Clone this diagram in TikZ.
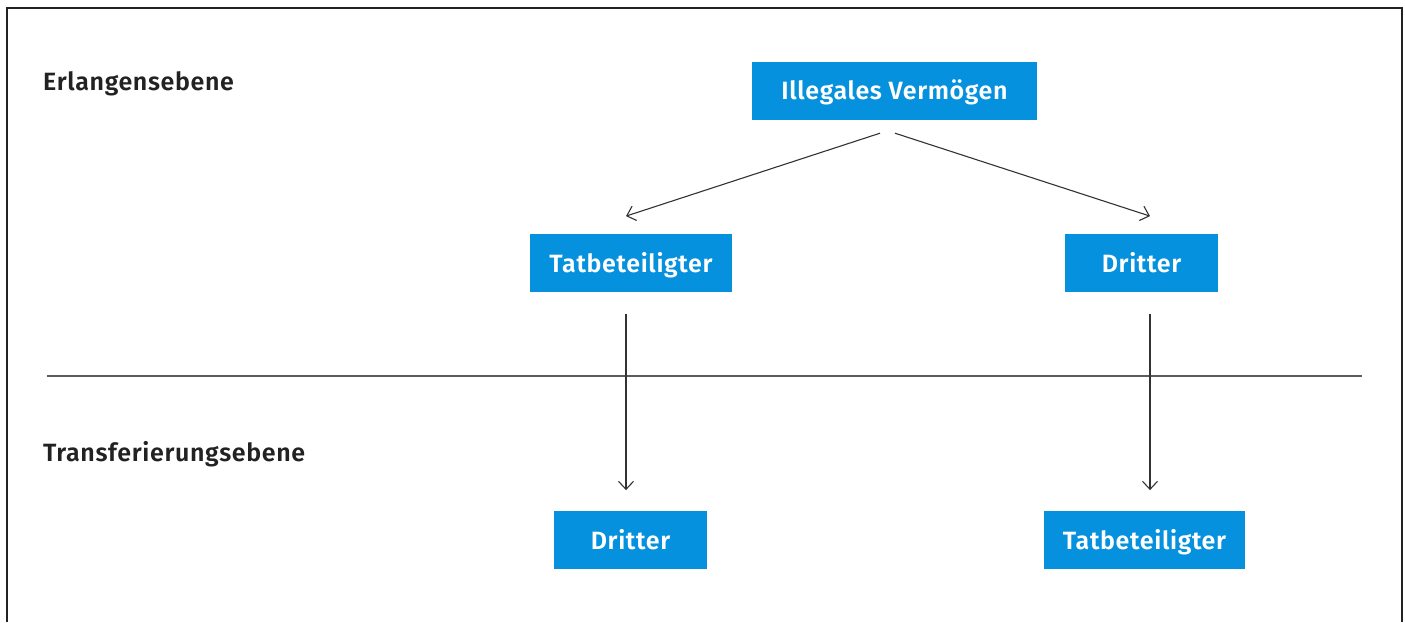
\documentclass[tikz,border=0pt]{standalone}
\usepackage{fontspec}
\setmainfont{Fira Sans}[LetterSpace=2.6, BoldFont={Fira Sans SemiBold}]
\usetikzlibrary{arrows.meta,calc}
\definecolor{boxblue}{RGB}{6,145,222}
\definecolor{ink}{RGB}{34,34,34}
\definecolor{lineink}{RGB}{51,51,51}
\tikzset{
  bluebox/.style={fill=boxblue, text=white, font=\bfseries\fontsize{25}{29}\selectfont,
    minimum height=58pt, inner sep=0pt, text height=17.5pt, text depth=0pt, anchor=center},
  levellabel/.style={text=ink, font=\bfseries\fontsize{25}{29}\selectfont, anchor=base west, inner sep=0pt},
  arr/.style={draw=lineink, line width=1.1pt, -{Straight Barb[length=8pt,width=15pt,line width=1.1pt]}},
  frameline/.style={draw=ink, line width=1.4pt},
}
\begin{document}
\begin{tikzpicture}[x=1pt,y=-1pt]
\useasboundingbox (0,0) rectangle (1405,622);
\fill[white] (0,0) rectangle (1405,622);
\draw[frameline] (7,622) -- (7,8) -- (1402,8) -- (1402,622);
\draw[draw=lineink!80, line width=1.1pt] (47,376) coordinate (hl) -- (1362,376) coordinate (hr);

\node[levellabel] (erl) at (43,90) {Erlangensebene};
\node[levellabel] (trans) at (43,461.7) {Transferierungsebene};

\node[bluebox, minimum width=285pt] (top) at (894.5,91) {Illegales Vermögen};
\node[bluebox, minimum width=202pt] (tl) at (631,263.3) {Tatbeteiligter};
\node[bluebox, minimum width=153pt] (tr) at (1141.5,263.3) {Dritter};
\node[bluebox, minimum width=153pt] (bl) at (630.5,540.3) {Dritter};
\node[bluebox, minimum width=201pt] (br) at (1144.5,540.3) {Tatbeteiligter};

\draw[arr] ($(top.south)+(-14.5,13)$) -- ($(tl.north)+(-5,-18)$);
\draw[arr] ($(top.south)+(0.5,13)$) -- ($(tr.north)+(8.5,-18)$);
\draw[arr] ($(tl.south)+(-5,21)$) -- ($(bl.north)+(-4.5,-21)$);
\draw[arr] ($(tr.south)+(8.5,21)$) -- ($(br.north)+(5.5,-21)$);
\end{tikzpicture}
\end{document}
